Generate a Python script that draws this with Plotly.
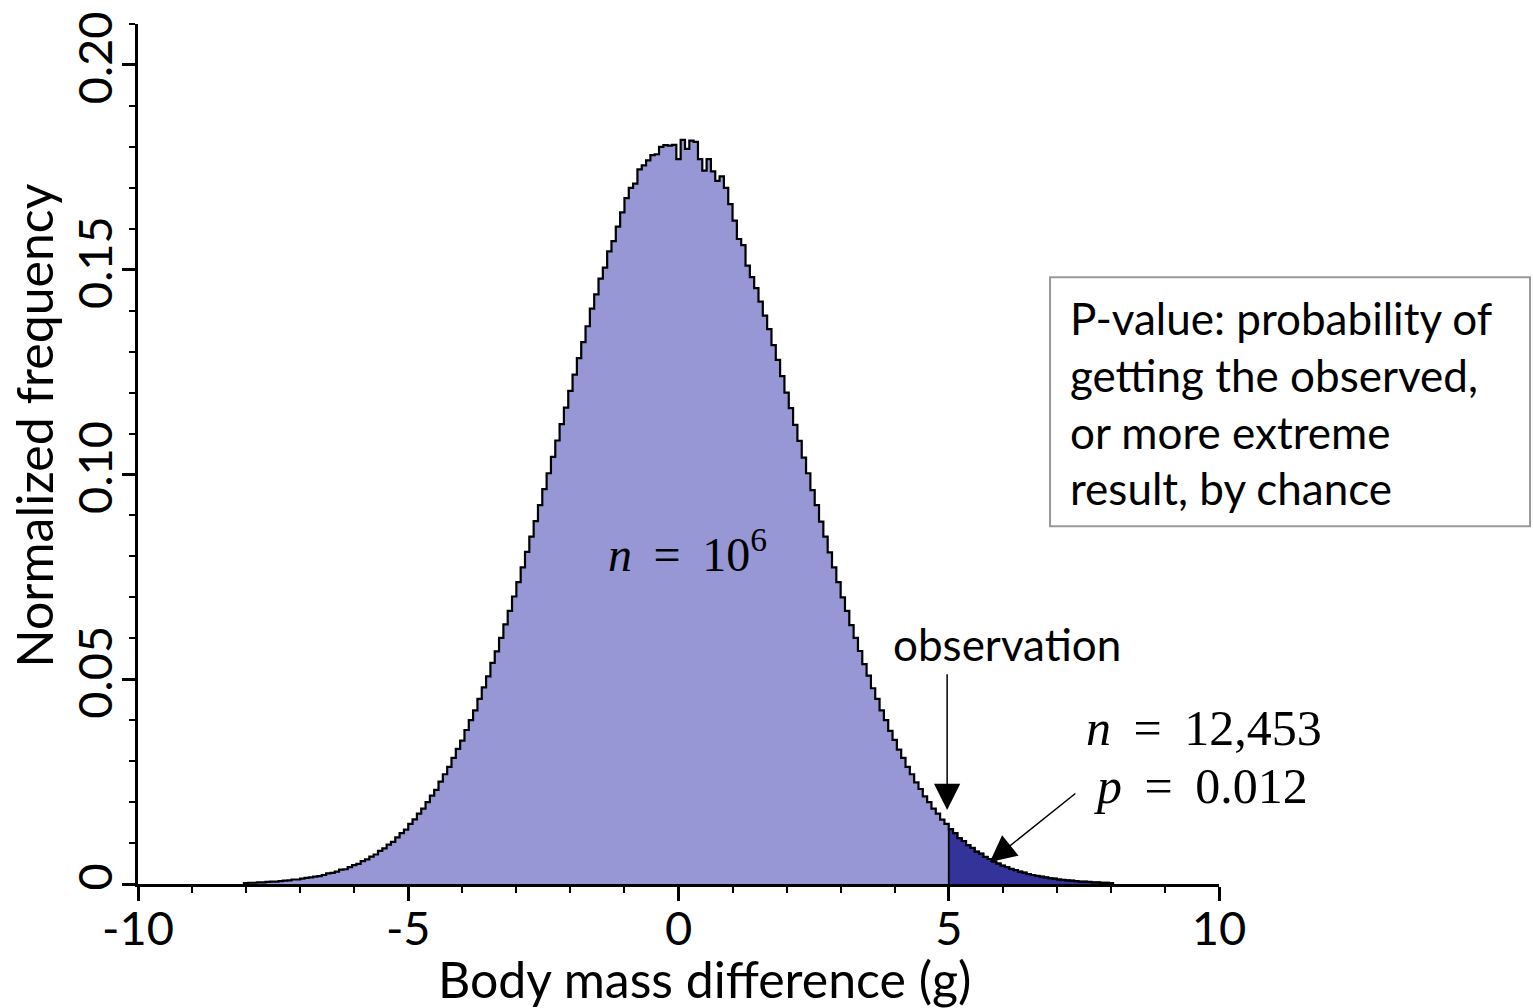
import plotly.graph_objects as go

# ---------------- data ----------------
bin_width = 0.08
bin_start = -8.04          # left edge of the first bin (g)
observed_value = 5.0       # observed body mass difference (g)

# normalized frequency per bin (bins from -8.04 to 8.04)
heights_left = [
    0.0002, 0.0003, 0.0003, 0.0004, 0.0004, 0.0005, 0.0006, 0.0006, 0.0007, 0.0008,
    0.0009, 0.0011, 0.0011, 0.0013, 0.0015, 0.0016, 0.0018, 0.0019, 0.0022, 0.0026,
    0.0027, 0.0030, 0.0035, 0.0036, 0.0041, 0.0046, 0.0049, 0.0056, 0.0060, 0.0067,
    0.0072, 0.0081, 0.0087, 0.0096, 0.0103, 0.0114, 0.0124, 0.0133, 0.0147, 0.0158,
    0.0172, 0.0184, 0.0200, 0.0216, 0.0230, 0.0250, 0.0268, 0.0286, 0.0308, 0.0330,
    0.0350, 0.0376, 0.0400, 0.0424, 0.0452, 0.0480, 0.0507, 0.0540, 0.0568, 0.0601,
    0.0634, 0.0667, 0.0702, 0.0737, 0.0773, 0.0811, 0.0848, 0.0886, 0.0925, 0.0964,
    0.1003, 0.1043, 0.1083, 0.1123, 0.1163, 0.1204, 0.1244, 0.1284, 0.1323, 0.1362,
    0.1405, 0.1440, 0.1478, 0.1505, 0.1545, 0.1570, 0.1605, 0.1640, 0.1675, 0.1700,
    0.1710, 0.1745, 0.1755, 0.1767, 0.1780, 0.1782, 0.1800, 0.1804, 0.1803, 0.1805,
]
heights_right = [
    0.1770, 0.1817, 0.1795, 0.1815, 0.1812, 0.1770, 0.1742, 0.1770, 0.1740, 0.1717,
    0.1728, 0.1700, 0.1660, 0.1620, 0.1575, 0.1560, 0.1510, 0.1482, 0.1455, 0.1422,
    0.1388, 0.1355, 0.1316, 0.1280, 0.1240, 0.1200, 0.1162, 0.1121, 0.1082, 0.1041,
    0.1003, 0.0962, 0.0925, 0.0885, 0.0848, 0.0810, 0.0773, 0.0737, 0.0700, 0.0667,
    0.0632, 0.0601, 0.0569, 0.0537, 0.0509, 0.0478, 0.0452, 0.0424, 0.0400, 0.0374,
    0.0352, 0.0328, 0.0308, 0.0286, 0.0268, 0.0248, 0.0232, 0.0214, 0.0200, 0.0184,
    0.0172, 0.0157, 0.0147, 0.0134, 0.0124, 0.0112, 0.0105, 0.0095, 0.0088, 0.0079,
    0.0074, 0.0066, 0.0061, 0.0055, 0.0050, 0.0045, 0.0041, 0.0037, 0.0034, 0.0030,
    0.0028, 0.0024, 0.0022, 0.0020, 0.0018, 0.0016, 0.0014, 0.0013, 0.0011, 0.0010,
    0.0009, 0.0008, 0.0007, 0.0006, 0.0006, 0.0005, 0.0004, 0.0004, 0.0003, 0.0003,
    0.0002,
]
heights = heights_left + heights_right

x_tick_vals = [-10, -5, 0, 5, 10]
x_tick_text = ["-10", "-5", "0", "5", "10"]
y_tick_vals = [0, 0.05, 0.10, 0.15, 0.20]
y_tick_text = ["0", "0.05", "0.10", "0.15", "0.20"]

n_total_text = "<i>n</i>\u2009 = \u200910<sup>6</sup>"
n_extreme_text = "<i>n</i>\u2009 = \u200912,453"
p_value_text = "<i>p</i>\u2009 = \u20090.012"
box_lines = ["P-value: probability of", "getting the observed,",
             "or more extreme", "result, by chance"]

# ---------------- styles ----------------
LIGHT = "#9797D6"
DARK = "#333399"
SANS = "Lato"
SERIF = "Liberation Serif"

# ---------------- build step outline ----------------
edges = [round(bin_start + bin_width * i, 4) for i in range(len(heights) + 1)]
xs = [edges[0]] + edges[:-1] + [edges[-1], edges[-1]]
ys = [0.0] + heights + [heights[-1], 0.0]

k_obs = min(range(len(edges)), key=lambda i: abs(edges[i] - observed_value))
tail_x = [edges[k_obs]] + edges[k_obs:-1] + [edges[-1], edges[-1]]
tail_y = [0.0] + heights[k_obs:] + [heights[-1], 0.0]

fig = go.Figure()
fig.add_trace(go.Scatter(x=xs, y=ys, mode="lines", line=dict(shape="hv", width=0, color=LIGHT),
                         fill="tozeroy", fillcolor=LIGHT, hoverinfo="skip", showlegend=False))
fig.add_trace(go.Scatter(x=tail_x, y=tail_y, mode="lines", line=dict(shape="hv", width=1.8, color="black"),
                         fill="tozeroy", fillcolor=DARK, hoverinfo="skip", showlegend=False))
fig.add_trace(go.Scatter(x=xs, y=ys, mode="lines", line=dict(shape="hv", width=2.2, color="black"),
                         hoverinfo="skip", showlegend=False))

fig.update_layout(
    width=1533, height=1008,
    margin=dict(l=138, r=314, t=21, b=124),
    paper_bgcolor="white", plot_bgcolor="white",
    font=dict(family=SANS, color="black"),
    showlegend=False,
)
fig.update_xaxes(
    range=[-10, 10], showgrid=False, zeroline=False,
    showline=True, linecolor="black", linewidth=2.5,
    ticks="outside", ticklen=14, tickwidth=2.5, tickcolor="black",
    tickvals=x_tick_vals, ticktext=x_tick_text, ticklabelstandoff=-12,
    tickfont=dict(family=SANS, size=47, color="black"),
    minor=dict(dtick=1, tick0=0, ticks="outside", ticklen=6, tickwidth=2, tickcolor="black"),
)
fig.update_yaxes(
    range=[0, 0.21], showgrid=False, zeroline=False,
    showline=True, linecolor="black", linewidth=2.5,
    ticks="outside", ticklen=13, tickwidth=2.5, tickcolor="black",
    tickvals=y_tick_vals, ticktext=y_tick_text, tickangle=-90, ticklabelstandoff=-9,
    tickfont=dict(family=SANS, size=47, color="black"),
    minor=dict(dtick=0.01, tick0=0, ticks="outside", ticklen=6, tickwidth=2, tickcolor="black"),
)

# axis titles
fig.add_annotation(text="Body mass difference (g)", xref="paper", yref="paper",
                   x=0.524, y=-0.111, xanchor="center", yanchor="middle", showarrow=False,
                   font=dict(family=SANS, size=50, color="black"))
fig.add_annotation(text="Normalized frequency", xref="paper", yref="paper",
                   x=-0.0963, y=0.533, xanchor="center", yanchor="middle", showarrow=False,
                   textangle=-90, font=dict(family=SANS, size=50, color="black"))

# math labels
fig.add_annotation(text=n_total_text, x=0.16, y=0.0812, xref="x", yref="y", showarrow=False,
                   font=dict(family=SERIF, size=48, color="black"))
fig.add_annotation(text=n_extreme_text, x=9.72, y=0.0380, xref="x", yref="y", showarrow=False,
                   font=dict(family=SERIF, size=50, color="black"))
fig.add_annotation(text=p_value_text, x=9.66, y=0.0240, xref="x", yref="y", showarrow=False,
                   font=dict(family=SERIF, size=50, color="black"))

# observation label and arrows
fig.add_annotation(text="observation", x=6.08, y=0.0585, xref="x", yref="y", showarrow=False,
                   font=dict(family=SANS, size=44, color="black"))
fig.add_annotation(x=observed_value - 0.03, y=0.0181, ax=observed_value - 0.03, ay=0.0516,
                   xref="x", yref="y", axref="x", ayref="y", text="", showarrow=True,
                   arrowhead=2, arrowsize=3.5, arrowwidth=1.5, arrowcolor="black")
fig.add_annotation(x=5.76, y=0.0054, ax=7.37, ay=0.0224,
                   xref="x", yref="y", axref="x", ayref="y", text="", showarrow=True,
                   arrowhead=2, arrowsize=3.5, arrowwidth=1.5, arrowcolor="black")

# P-value box
fig.add_shape(type="rect", xref="paper", yref="paper", x0=0.8437, x1=1.2877, y0=0.416, y1=0.7055,
              line=dict(color="#999999", width=2), fillcolor="rgba(0,0,0,0)")
line_px = [316, 373, 430, 487]
for txt, py in zip(box_lines, line_px):
    fig.add_annotation(text=txt, xref="paper", yref="paper", x=(1068 - 138) / 1081,
                       y=(884.3 - py) / 863.7, xanchor="left", yanchor="middle", showarrow=False,
                       font=dict(family=SANS, size=44, color="black"))

fig.write_html("out.html")
